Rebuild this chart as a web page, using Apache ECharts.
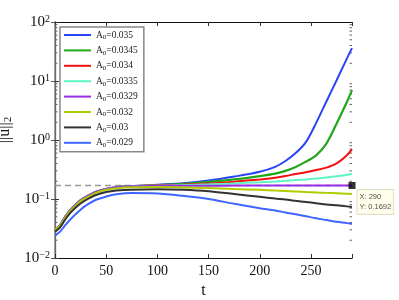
<!DOCTYPE html>
<html><head><meta charset="utf-8">
<script src="https://cdn.jsdelivr.net/npm/echarts@6/dist/echarts.min.js"></script>
<style>html,body{margin:0;padding:0;background:#fff}#c{width:399px;height:300px}</style>
</head><body><div id="c"></div>
<script>
const tValues = [0,5,10,15,20,25,30,40,50,60,75,100,125,150,175,200,215,225,235,245,255,265,275,285,290];
const labels = ['0.035','0.0345','0.034','0.0335','0.0329','0.032','0.03','0.029'];
const colors = ['#2a45f5','#22a61a','#f01010','#5ff5c0','#9a2ee8','#b0cc00','#333333','#3f66ff'];
const early = [0.030,0.036,0.050,0.065,0.080,0.095,0.108,0.132,0.148,0.158,0.165];
const s0035 = early.concat([0.175,0.185,0.205,0.24,0.29,0.35,0.44,0.6,0.92,1.95,4.5,10.3,24,36]);
const s00345 = early.concat([0.172,0.18,0.195,0.215,0.245,0.27,0.3,0.35,0.43,0.55,0.87,1.9,4.4,7.0]);
const s0034 = early.concat([0.17,0.175,0.183,0.197,0.215,0.23,0.245,0.265,0.285,0.31,0.34,0.4,0.55,0.70]);
const s00335 = early.concat([0.168,0.172,0.177,0.184,0.192,0.198,0.203,0.209,0.215,0.222,0.232,0.243,0.256,0.265]);
const s00329 = early.concat([0.167,0.168,0.168,0.169,0.169,0.169,0.169,0.169,0.169,0.169,0.169,0.169,0.1692,0.1692]);
const s0032 = [0.030,0.035,0.048,0.063,0.077,0.092,0.104,0.127,0.143,0.152,0.158,0.159,0.157,0.153,0.148,0.143,0.139,0.137,0.134,0.131,0.129,0.127,0.125,0.123,0.122];
const s003 = [0.028,0.033,0.045,0.058,0.071,0.084,0.096,0.117,0.131,0.139,0.144,0.146,0.143,0.135,0.121,0.109,0.102,0.098,0.093,0.089,0.085,0.081,0.078,0.075,0.073];
const s0029 = [0.024,0.028,0.036,0.045,0.055,0.066,0.077,0.097,0.11,0.12,0.126,0.124,0.113,0.1,0.083,0.07,0.064,0.059,0.055,0.051,0.047,0.044,0.041,0.039,0.0377];
const seriesValues = [s0035,s00345,s0034,s00335,s00329,s0032,s003,s0029];
const widths = [2,2.2,2,2,2,2,2,2];
const refY = 0.1692;
const markerX = 290;
const xTicks = [0,50,100,150,200,250];
const minorTicks = [];
for (let e = -2; e < 2; e++) for (let m = 2; m <= 9; m++) minorTicks.push(m * Math.pow(10, e));

const serif = 'Liberation Serif, Times New Roman, serif';
const chart = echarts.init(document.getElementById('c'), null, {renderer:'canvas'});
const series = seriesValues.map((vals, i) => ({
  name: labels[i], type: 'line', symbol: 'none', smooth: 0.3,
  lineStyle: {color: colors[i], width: widths[i]},
  itemStyle: {color: colors[i]},
  data: tValues.map((t, k) => [t, vals[k]]),
  z: 3
}));
series.unshift({
  type: 'line', symbol: 'none', silent: true,
  lineStyle: {color: '#999', width: 1.5, type: [6, 4]},
  data: [[0, refY], [markerX, refY]], z: 2
});
series.push({
  type: 'scatter', symbol: 'rect', symbolSize: 7, clip: false, z: 5,
  itemStyle: {color: '#000'},
  data: [[markerX, refY]],
  label: {
    show: true, position: [9, 8], formatter: 'X: ' + markerX + '\nY: ' + refY,
    fontFamily: 'Liberation Sans, Arial, sans-serif', fontSize: 7.5, color: '#222',
    lineHeight: 10, align: 'left', verticalAlign: 'top',
    backgroundColor: '#ffffe8', borderColor: '#d8d8c0', borderWidth: 1, padding: [2, 2]
  }
});
series.push({
  type: 'custom', silent: true, z: 1, clip: false,
  data: minorTicks.map(v => [0, v]),
  renderItem: function (params, api) {
    const v = api.value(1);
    const a = api.coord([0, v]);
    const b = api.coord([290, v]);
    return {type: 'group', children: [
      {type: 'line', shape: {x1: a[0], y1: a[1], x2: a[0] + 2.5, y2: a[1]}, style: {stroke: '#666', lineWidth: 1}},
      {type: 'line', shape: {x1: b[0], y1: b[1], x2: b[0] - 2.5, y2: b[1]}, style: {stroke: '#666', lineWidth: 1}}
    ]};
  }
});

const expText = v => {
  const e = Math.round(Math.log10(v));
  return '{b|10}{e|' + (e < 0 ? '\u2212' + (-e) : e) + '}';
};

chart.setOption({
  animation: false,
  grid: {left: 55, top: 22, width: 297, height: 236, containLabel: false, outerBoundsMode: 'none'},
  legend: {
    orient: 'vertical', left: 60, top: 27, itemWidth: 27, itemHeight: 2, itemGap: 4.4,
    icon: 'rect', padding: [3, 6, 3, 4], z: 6,
    borderColor: '#888', borderWidth: 1.5, backgroundColor: '#fff',
    data: labels.map((l, i) => ({name: l, itemStyle: {color: colors[i]}})),
    formatter: name => '{a|A}{s|0}{a|=' + name + '}',
    textStyle: {
      fontFamily: serif, color: '#222',
      rich: {
        a: {fontSize: 9.5, fontFamily: serif, lineHeight: 12, color: '#222'},
        s: {fontSize: 7, fontFamily: serif, lineHeight: 5, verticalAlign: 'bottom', color: '#222'}
      }
    }
  },
  xAxis: [{
    type: 'value', min: 0, max: 290, interval: 50, position: 'bottom',
    name: 't', nameLocation: 'middle', nameGap: 24,
    nameTextStyle: {fontFamily: serif, fontSize: 16, color: '#111'},
    axisLine: {lineStyle: {color: '#111', width: 1.2}},
    axisTick: {inside: true, length: 4, lineStyle: {color: '#333'}},
    axisLabel: {fontFamily: serif, fontSize: 14, color: '#111', margin: 6,
      formatter: v => (xTicks.indexOf(v) >= 0 ? String(v) : '')},
    splitLine: {show: false}
  }, {
    type: 'value', min: 0, max: 290, interval: 50, position: 'top',
    axisLine: {lineStyle: {color: '#111', width: 1.2}},
    axisTick: {inside: true, length: 4, lineStyle: {color: '#333'}},
    axisLabel: {show: false}, splitLine: {show: false}
  }],
  yAxis: [{
    type: 'log', logBase: 10, min: 0.01, max: 100, position: 'left',
    name: '{a|||u||}{s|2}', nameLocation: 'middle', nameGap: 34, nameRotate: 90,
    nameTextStyle: {fontFamily: serif, color: '#111', padding: [0, 0, 0, 20],
      rich: {a: {fontSize: 16, fontFamily: serif, lineHeight: 17, color: '#111'},
             s: {fontSize: 11, fontFamily: serif, lineHeight: 6, verticalAlign: 'bottom', color: '#111'}}},
    axisLine: {show: true, lineStyle: {color: '#111', width: 1.2}},
    axisTick: {inside: true, length: 4, lineStyle: {color: '#333'}},
    axisLabel: {formatter: expText, margin: 5, color: '#111',
      rich: {b: {fontSize: 15, fontFamily: serif, lineHeight: 16, color: '#111'},
             e: {fontSize: 10, fontFamily: serif, lineHeight: 6, verticalAlign: 'top', color: '#111'}}},
    splitLine: {show: false}
  }, {
    type: 'log', logBase: 10, min: 0.01, max: 100, position: 'right',
    axisLine: {show: true, lineStyle: {color: '#888', width: 1.5}},
    axisTick: {inside: true, length: 4, lineStyle: {color: '#555'}},
    axisLabel: {show: false}, splitLine: {show: false}
  }],
  series: series
});
</script></body></html>
